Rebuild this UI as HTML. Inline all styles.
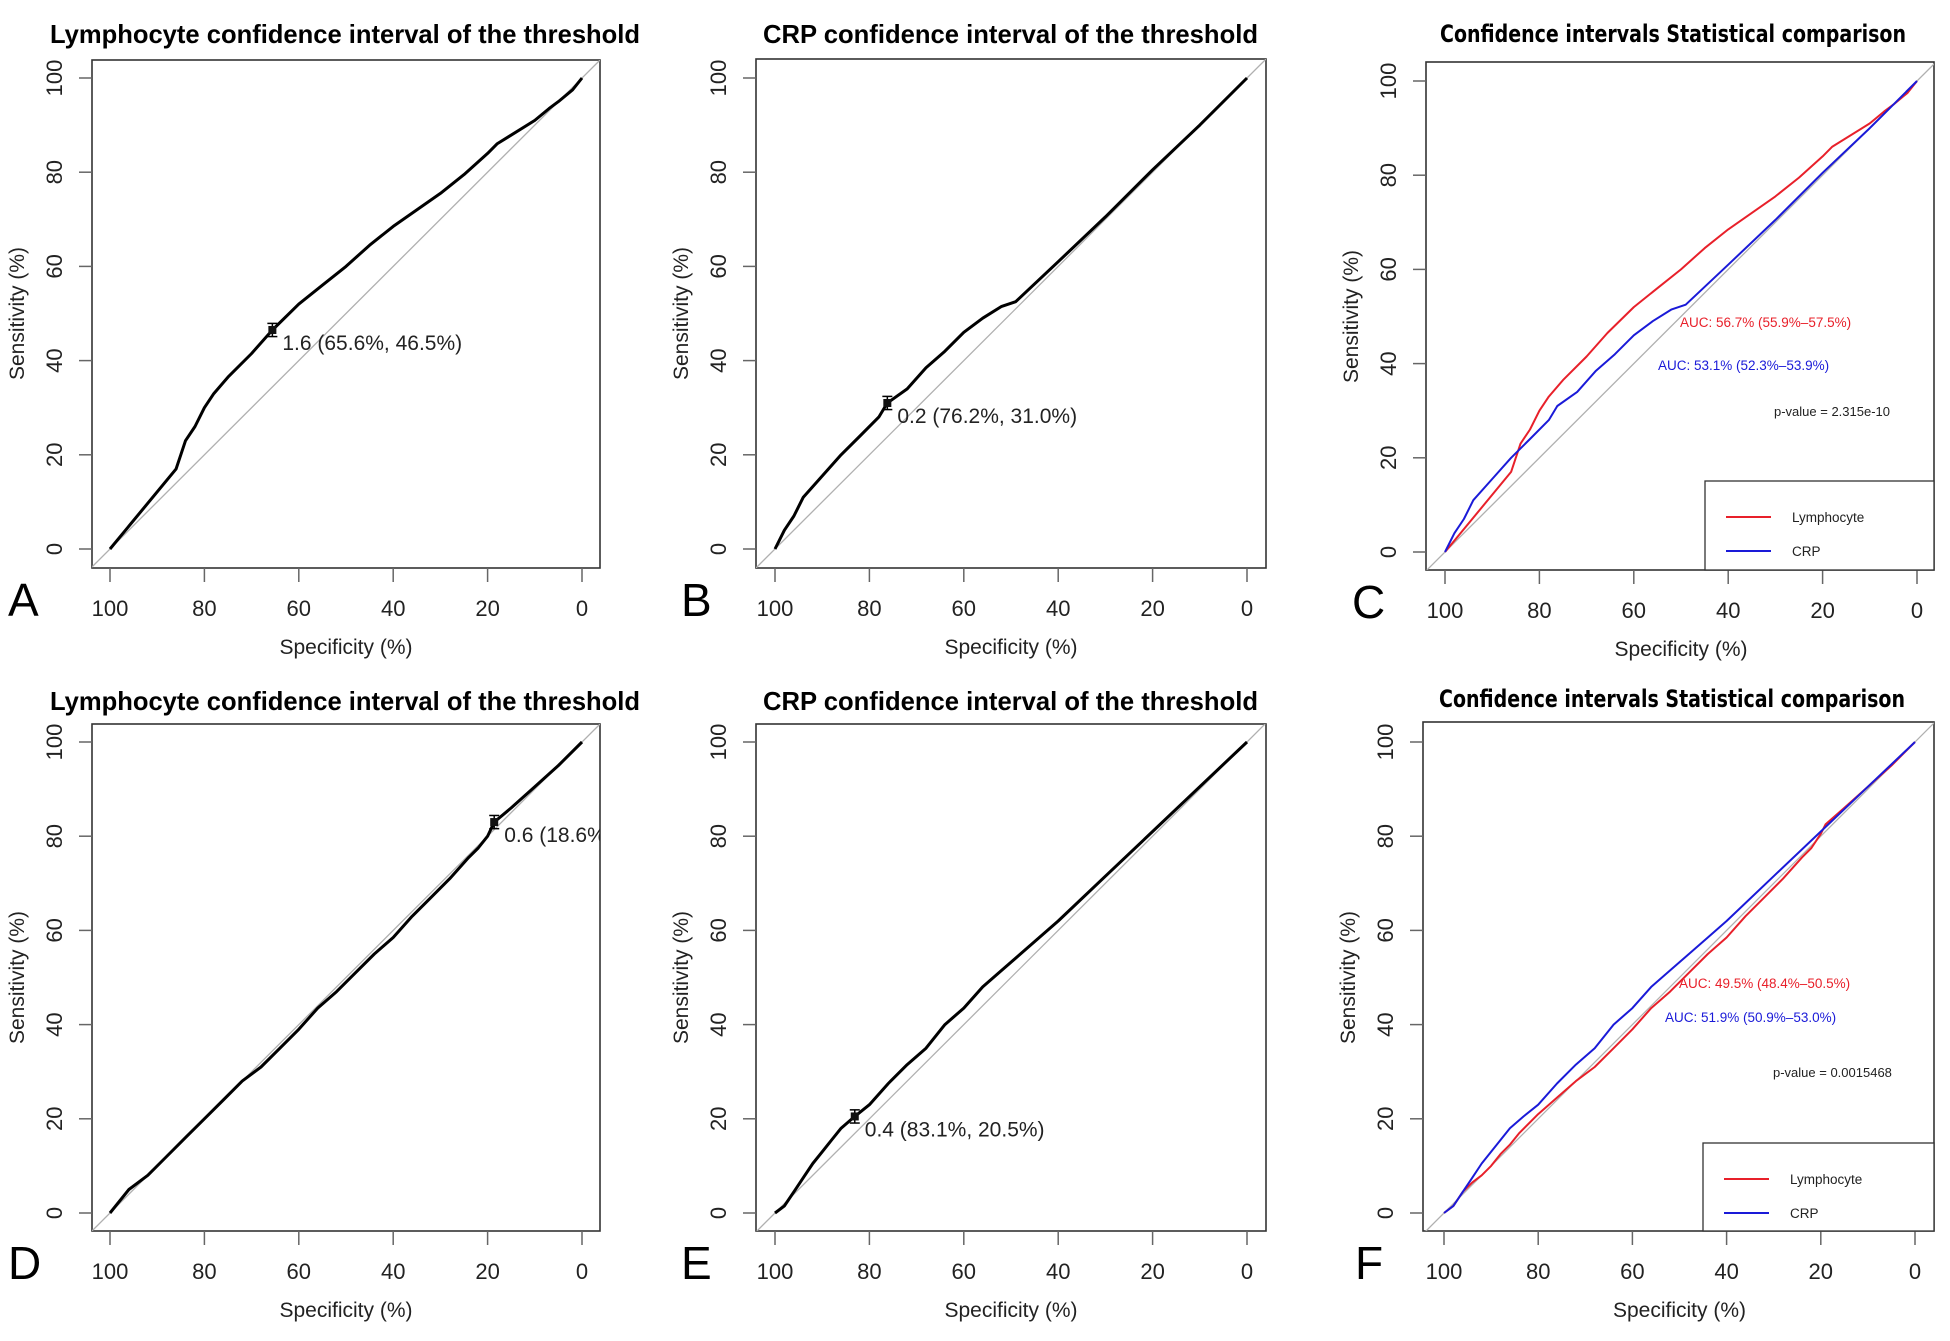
<!DOCTYPE html>
<html><head><meta charset="utf-8">
<style>
html,body{margin:0;padding:0;background:#fff;}
svg{display:block;}
text{font-family:"Liberation Sans",Arial,sans-serif;}
</style></head>
<body>
<svg id="fig" width="1950" height="1341" viewBox="0 0 1950 1341" xmlns="http://www.w3.org/2000/svg"></svg>
<script>
// ---- data (specificity %, sensitivity %) ----
const lymphASpec = [100,86,85,84,82,80,78,75,70,65.6,60,55,50,45,40,35,30,25,20,18,10,7,5,2,0];
const lymphASens = [0,17,20,23,26,30,33,36.5,41.5,46.5,52,56,60,64.5,68.5,72,75.5,79.5,84,86,91,93.5,95,97.5,100];
const crpBSpec = [100,98,96,94,90,86,82,78,76.2,72,68,64,60,56,52,49,40,30,20,10,0];
const crpBSens = [0,4,7,11,15.5,20,24,28,31,34,38.5,42,46,49,51.5,52.5,61,70.5,80.5,90,100];
const lymphDSpec = [100,96,92,88,84,80,76,72,68,64,60,56,52,48,44,40,36,32,28,24,22,20,18.6,15,10,5,0];
const lymphDSens = [0,5,8,12,16,20,24,28,31,35,39,43.5,47,51,55,58.5,63,67,71,75.5,77.5,80,83,86,90.5,95,100];
const crpESpec = [100,98,96,94,92,90,88,86,83.1,80,76,72,68,64,60,56,52,48,44,40,30,20,10,0];
const crpESens = [0,1.5,4.5,7.5,10.5,13,15.5,18,20.5,23,27.5,31.5,35,40,43.5,48,51.5,55,58.5,62,71.5,81,90.5,100];
const lymphFSpec = [100,98,96,94,92,90,88,86,84,80,76,72,68,64,60,56,52,48,44,40,36,32,28,24,22,20,19,15,10,5,0];
const lymphFSens = [0,1.5,4.5,6.5,8,10,12.5,14.5,17,21,24.5,28,31,35,39,43.5,47,51,55,58.5,63,67,71,75.5,77.5,80.5,82.5,86,90.5,95,100];
const thresholdA = [65.6,46.5]; const thresholdB = [76.2,31.0];
const thresholdD = [18.6,83.0]; const thresholdE = [83.1,20.5];
const ticks = [100,80,60,40,20,0];
const tickLabels = ["100","80","60","40","20","0"];

const NS="http://www.w3.org/2000/svg";
const svg=document.getElementById('fig');
function el(tag,attrs,parent,txt){const e=document.createElementNS(NS,tag);for(const k in attrs)e.setAttribute(k,attrs[k]);if(txt!==undefined)e.textContent=txt;(parent||svg).appendChild(e);return e;}

function panel(p){
  const g=el('g',{});
  
  
  const sx=v=>p.x0+(100-v)/100*(p.x1-p.x0);
  const sy=v=>p.y0-(v/100)*(p.y0-p.y1);
  const cid='clip'+p.letter;
  const cp=el('clipPath',{id:cid},g); el('rect',{x:p.bl,y:p.bt,width:p.br-p.bl,height:p.bb-p.bt},cp);
  const t=el('text',{x:(p.tx0+p.tx1)/2,y:p.ty,'text-anchor':'middle','font-size':p.tfs,'font-weight':'bold',textLength:p.tx1-p.tx0,lengthAdjust:'spacingAndGlyphs'},g,p.title);
  if(p.tfont) t.setAttribute('style','font-family:'+p.tfont);
   
  const box=el('rect',{x:p.bl,y:p.bt,width:p.br-p.bl,height:p.bb-p.bt,fill:'none',stroke:'#333','stroke-width':1.6},g);
   
  const dg=el('line',{x1:sx(110),y1:sy(-10),x2:sx(-10),y2:sy(110),stroke:'#b0b0b0','stroke-width':1.3,'clip-path':'url(#'+cid+')'},g);
   
  ticks.forEach((v,i)=>{
    const xt=el('line',{x1:sx(v),y1:p.bb,x2:sx(v),y2:p.bb+14,stroke:'#666','stroke-width':1.5},g);
     
    const xl=el('text',{x:sx(v),y:p.bb+48,'text-anchor':'middle','font-size':22,fill:'#222'},g,tickLabels[i]);
     
    const yt=el('line',{x1:p.bl,y1:sy(v),x2:p.bl-13,y2:sy(v),stroke:'#666','stroke-width':1.5},g);
     
    const yl=el('text',{x:0,y:0,transform:'translate('+(p.bl-30)+','+sy(v)+') rotate(-90)','text-anchor':'middle','font-size':22,fill:'#222'},g,tickLabels[i]);
     
  });
  const xa=el('text',{x:(p.x0+p.x1)/2,y:p.bb+86,'text-anchor':'middle','font-size':21,fill:'#222'},g,'Specificity (%)');
   
  const ya=el('text',{x:0,y:0,transform:'translate('+(p.bl-68)+','+((p.y0+p.y1)/2)+') rotate(-90)','text-anchor':'middle','font-size':21,fill:'#222'},g,'Sensitivity (%)');
   
  const lt=el('text',{x:p.lx,y:p.bb+48,'font-size':46,fill:'#000'},g,p.letter);
   
  p.series.forEach(s=>{
    const d=s.spec.map((v,i)=>(i?'L':'M')+sx(v).toFixed(1)+','+sy(s.sens[i]).toFixed(1)).join('');
    const pa=el('path',{d:d,fill:'none',stroke:s.color,'stroke-width':s.w,'stroke-linejoin':'round'},g);
     
  });
  if(p.thr){
    const cx=sx(p.thr[0]), cy=sy(p.thr[1]);
    const eb=el('g',{'clip-path':'url(#'+cid+')'},g);
     
    el('line',{x1:cx,y1:sy(p.thr[1]+1.4),x2:cx,y2:sy(p.thr[1]-1.4),stroke:'#000','stroke-width':1.5},eb);
    el('line',{x1:cx-5,y1:sy(p.thr[1]+1.4),x2:cx+5,y2:sy(p.thr[1]+1.4),stroke:'#000','stroke-width':1.5},eb);
    el('line',{x1:cx-5,y1:sy(p.thr[1]-1.4),x2:cx+5,y2:sy(p.thr[1]-1.4),stroke:'#000','stroke-width':1.5},eb);
    el('rect',{x:cx-4,y:cy-4,width:8,height:8,fill:'#111'},eb);
    const at=el('text',{x:cx+10,y:cy+20,'font-size':21,fill:'#222','clip-path':'url(#'+cid+')'},g,p.thrLabel+' ('+p.thr[0].toFixed(1)+'%, '+p.thr[1].toFixed(1)+'%)');
     
  }
  if(p.cmp){
    const c=p.cmp;
    const a1=el('text',{x:c.rx,y:c.ry,'font-size':13.5,fill:'#e8202a'},g,c.rt);
     
    const a2=el('text',{x:c.bx,y:c.by,'font-size':13.5,fill:'#1a1ad8'},g,c.bt);
     
    const pv=el('text',{x:c.px,y:c.py,'font-size':13,fill:'#222'},g,c.pt);
     
    const lg=el('g',{},g);
     
    el('rect',{x:c.lgx,y:c.lgy,width:p.br-c.lgx,height:p.bb-c.lgy,fill:'#fff',stroke:'#333','stroke-width':1.3},lg);
    el('line',{x1:c.lgx+21,y1:c.lgy+36,x2:c.lgx+66,y2:c.lgy+36,stroke:'#e8202a','stroke-width':2},lg);
    el('line',{x1:c.lgx+21,y1:c.lgy+70,x2:c.lgx+66,y2:c.lgy+70,stroke:'#1a1ad8','stroke-width':2},lg);
    const l1=el('text',{x:c.lgx+87,y:c.lgy+41,'font-size':13.5,fill:'#222'},lg,'Lymphocyte');
     
    const l2=el('text',{x:c.lgx+87,y:c.lgy+75,'font-size':13.5,fill:'#222'},lg,'CRP');
     
  }
}

const segoe='"DejaVu Sans","Liberation Sans",sans-serif';
panel({letter:'A',title:'Lymphocyte confidence interval of the threshold',tx0:50,tx1:640,ty:43,tfs:26,
  bl:92,br:600,bt:60,bb:568,x0:110,x1:582,y0:549,y1:78,lx:8,
  series:[{spec:lymphASpec,sens:lymphASens,color:'#000',w:3,name:'roc-curve-lymphocyte'}],thr:thresholdA,thrLabel:'1.6'});
panel({letter:'B',title:'CRP confidence interval of the threshold',tx0:763,tx1:1258,ty:43,tfs:26,
  bl:756,br:1266,bt:59,bb:568,x0:775,x1:1247,y0:549,y1:78,lx:681,
  series:[{spec:crpBSpec,sens:crpBSens,color:'#000',w:3,name:'roc-curve-crp'}],thr:thresholdB,thrLabel:'0.2'});
panel({letter:'C',title:'Confidence intervals Statistical comparison',tx0:1440,tx1:1906,ty:42,tfs:24,tfont:segoe,
  bl:1426,br:1934,bt:62,bb:570,x0:1445,x1:1917,y0:552,y1:81,lx:1352,
  series:[{spec:lymphASpec,sens:lymphASens,color:'#e8202a',w:2,name:'roc-curve-lymphocyte'},{spec:crpBSpec,sens:crpBSens,color:'#1a1ad8',w:2,name:'roc-curve-crp'}],
  cmp:{rx:1680,ry:327,rt:'AUC: 56.7% (55.9%–57.5%)',bx:1658,by:370,bt:'AUC: 53.1% (52.3%–53.9%)',px:1774,py:416,pt:'p-value = 2.315e-10',lgx:1705,lgy:481}});
panel({letter:'D',title:'Lymphocyte confidence interval of the threshold',tx0:50,tx1:640,ty:710,tfs:26,
  bl:92,br:600,bt:724,bb:1231,x0:110,x1:582,y0:1213,y1:742,lx:8,
  series:[{spec:lymphDSpec,sens:lymphDSens,color:'#000',w:3,name:'roc-curve-lymphocyte'}],thr:thresholdD,thrLabel:'0.6'});
panel({letter:'E',title:'CRP confidence interval of the threshold',tx0:763,tx1:1258,ty:710,tfs:26,
  bl:756,br:1266,bt:724,bb:1231,x0:775,x1:1247,y0:1213,y1:742,lx:681,
  series:[{spec:crpESpec,sens:crpESens,color:'#000',w:3,name:'roc-curve-crp'}],thr:thresholdE,thrLabel:'0.4'});
panel({letter:'F',title:'Confidence intervals Statistical comparison',tx0:1439,tx1:1905,ty:707,tfs:24,tfont:segoe,
  bl:1423,br:1934,bt:722,bb:1231,x0:1444,x1:1915,y0:1213,y1:742,lx:1355,
  series:[{spec:lymphFSpec,sens:lymphFSens,color:'#e8202a',w:2,name:'roc-curve-lymphocyte'},{spec:crpESpec,sens:crpESens,color:'#1a1ad8',w:2,name:'roc-curve-crp'}],
  cmp:{rx:1679,ry:988,rt:'AUC: 49.5% (48.4%–50.5%)',bx:1665,by:1022,bt:'AUC: 51.9% (50.9%–53.0%)',px:1773,py:1077,pt:'p-value = 0.0015468',lgx:1703,lgy:1143}});
</script>
</body></html>
